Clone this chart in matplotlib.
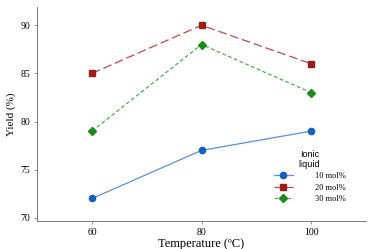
import matplotlib.pyplot as plt

# datos
temperatura = [60, 80, 100]
rend_10 = [72, 77, 79]
rend_20 = [85, 90, 86]
rend_30 = [79, 88, 83]
etiquetas = ['10 mol%', '20 mol%', '30 mol%']

plt.rcParams['font.family'] = ['Liberation Serif', 'DejaVu Serif']

fig = plt.figure(figsize=(3.75, 2.49), dpi=100)
ax = fig.add_axes([0.099, 0.112, 0.877, 0.86])

ax.plot(temperatura, rend_10, color='#5b8fd6', lw=0.9, ls='-',
        marker='o', ms=4.5, mfc='#1560bd', mec='#1560bd', label=etiquetas[0])
ax.plot(temperatura, rend_20, color='#c04848', lw=0.9, ls=(0, (7, 3)),
        marker='s', ms=4.5, mfc='#9b1c1c', mec='#9b1c1c', label=etiquetas[1])
ax.plot(temperatura, rend_30, color='#4caf4c', lw=0.9, ls=(0, (3, 2)),
        marker='D', ms=4, mfc='#1a8a1a', mec='#1a8a1a', label=etiquetas[2])

ax.set_xlim(50, 110)
ax.set_ylim(69.65, 91.9)
ax.set_xticks([60, 80, 100])
ax.set_yticks([70, 75, 80, 85, 90])
ax.tick_params(labelsize=7, length=2, width=0.5, color='#666666', pad=3)
ax.spines['top'].set_visible(False)
ax.spines['right'].set_visible(False)
for s in ['left', 'bottom']:
    ax.spines[s].set_linewidth(0.6)
    ax.spines[s].set_color('#666666')

ax.set_xlabel('Temperature (ºC)', fontsize=9, labelpad=1)
ax.set_ylabel('Yield (%)', fontsize=8, labelpad=3)

leg = ax.legend(title='Ionic\nliquid', fontsize=6, frameon=False,
                loc='lower right', bbox_to_anchor=(0.96, 0.05),
                handlelength=2.3, handletextpad=2.6, labelspacing=0.4,
                title_fontsize=6.5)
leg.get_title().set_family(['Liberation Sans', 'DejaVu Sans'])
leg.get_title().set_multialignment('center')

fig.savefig('out.png', dpi=100)
